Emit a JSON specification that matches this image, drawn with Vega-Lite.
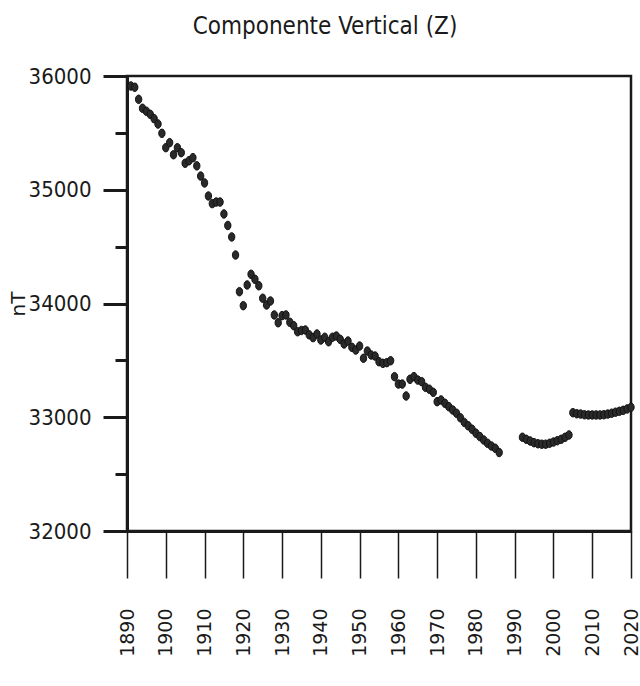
{
  "$schema": "https://vega.github.io/schema/vega-lite/v6.json",
  "autosize": {"type": "none"},
  "padding": {"left": 127, "top": 76, "right": 9, "bottom": 155},
  "width": 504,
  "height": 455,
  "background": "white",
  "config": {
    "view": {"stroke": "#1a1a1a", "strokeWidth": 2.5},
    "axis": {"grid": false, "domainColor": "#1a1a1a", "tickColor": "#1a1a1a", "labelColor": "#1a1a1a", "titleColor": "#1a1a1a"}
  },
  "title": {
    "text": "Componente Vertical (Z)",
    "font": "DejaVu Sans Condensed, Liberation Sans Narrow, Liberation Sans, sans-serif",
    "fontSize": 24,
    "fontWeight": "normal",
    "color": "#1a1a1a",
    "anchor": "middle",
    "dx": -54,
    "offset": 26
  },
  "data": {
    "values": [
      {"year": 1891, "z": 35912}, {"year": 1892, "z": 35901}, {"year": 1893, "z": 35795}, {"year": 1894, "z": 35716},
      {"year": 1895, "z": 35690}, {"year": 1896, "z": 35663}, {"year": 1897, "z": 35625}, {"year": 1898, "z": 35578},
      {"year": 1899, "z": 35496}, {"year": 1900, "z": 35370}, {"year": 1901, "z": 35414}, {"year": 1902, "z": 35308},
      {"year": 1903, "z": 35370}, {"year": 1904, "z": 35326}, {"year": 1905, "z": 35233}, {"year": 1906, "z": 35255},
      {"year": 1907, "z": 35282}, {"year": 1908, "z": 35210}, {"year": 1909, "z": 35120}, {"year": 1910, "z": 35060},
      {"year": 1911, "z": 34945}, {"year": 1912, "z": 34878}, {"year": 1913, "z": 34892}, {"year": 1914, "z": 34892},
      {"year": 1915, "z": 34787}, {"year": 1916, "z": 34686}, {"year": 1917, "z": 34585}, {"year": 1918, "z": 34426},
      {"year": 1919, "z": 34104}, {"year": 1920, "z": 33981}, {"year": 1921, "z": 34163}, {"year": 1922, "z": 34257},
      {"year": 1923, "z": 34213}, {"year": 1924, "z": 34156}, {"year": 1925, "z": 34046}, {"year": 1926, "z": 33987},
      {"year": 1927, "z": 34022}, {"year": 1928, "z": 33899}, {"year": 1929, "z": 33831}, {"year": 1930, "z": 33893},
      {"year": 1931, "z": 33899}, {"year": 1932, "z": 33835}, {"year": 1933, "z": 33805}, {"year": 1934, "z": 33752},
      {"year": 1935, "z": 33763}, {"year": 1936, "z": 33767}, {"year": 1937, "z": 33725}, {"year": 1938, "z": 33700},
      {"year": 1939, "z": 33732}, {"year": 1940, "z": 33679}, {"year": 1941, "z": 33703}, {"year": 1942, "z": 33664},
      {"year": 1943, "z": 33703}, {"year": 1944, "z": 33714}, {"year": 1945, "z": 33685}, {"year": 1946, "z": 33644},
      {"year": 1947, "z": 33670}, {"year": 1948, "z": 33615}, {"year": 1949, "z": 33591}, {"year": 1950, "z": 33626},
      {"year": 1951, "z": 33518}, {"year": 1952, "z": 33582}, {"year": 1953, "z": 33547}, {"year": 1954, "z": 33538},
      {"year": 1955, "z": 33488}, {"year": 1956, "z": 33474}, {"year": 1957, "z": 33480}, {"year": 1958, "z": 33497},
      {"year": 1959, "z": 33357}, {"year": 1960, "z": 33292}, {"year": 1961, "z": 33292}, {"year": 1962, "z": 33187},
      {"year": 1963, "z": 33334}, {"year": 1964, "z": 33357}, {"year": 1965, "z": 33327}, {"year": 1966, "z": 33313},
      {"year": 1967, "z": 33263}, {"year": 1968, "z": 33246}, {"year": 1969, "z": 33219}, {"year": 1970, "z": 33137},
      {"year": 1971, "z": 33152}, {"year": 1972, "z": 33123}, {"year": 1973, "z": 33093}, {"year": 1974, "z": 33064},
      {"year": 1975, "z": 33035}, {"year": 1976, "z": 32995}, {"year": 1977, "z": 32955}, {"year": 1978, "z": 32925},
      {"year": 1979, "z": 32895}, {"year": 1980, "z": 32860}, {"year": 1981, "z": 32830}, {"year": 1982, "z": 32800},
      {"year": 1983, "z": 32771}, {"year": 1984, "z": 32747}, {"year": 1985, "z": 32727}, {"year": 1986, "z": 32690},
      {"year": 1992, "z": 32824}, {"year": 1993, "z": 32806}, {"year": 1994, "z": 32791}, {"year": 1995, "z": 32776},
      {"year": 1996, "z": 32767}, {"year": 1997, "z": 32763}, {"year": 1998, "z": 32763}, {"year": 1999, "z": 32771},
      {"year": 2000, "z": 32782}, {"year": 2001, "z": 32794}, {"year": 2002, "z": 32806}, {"year": 2003, "z": 32824},
      {"year": 2004, "z": 32844},
      {"year": 2005, "z": 33040}, {"year": 2006, "z": 33031}, {"year": 2007, "z": 33028}, {"year": 2008, "z": 33022},
      {"year": 2009, "z": 33020}, {"year": 2010, "z": 33020}, {"year": 2011, "z": 33020}, {"year": 2012, "z": 33020},
      {"year": 2013, "z": 33022}, {"year": 2014, "z": 33028}, {"year": 2015, "z": 33035}, {"year": 2016, "z": 33044},
      {"year": 2017, "z": 33052}, {"year": 2018, "z": 33061}, {"year": 2019, "z": 33073}, {"year": 2020, "z": 33088}
    ]
  },
  "mark": {
    "type": "point",
    "filled": true,
    "shape": "M -0.75 0 A 0.75 1 0 1 0 0.75 0 A 0.75 1 0 1 0 -0.75 0 Z",
    "size": 72,
    "fill": "#2a2a2a",
    "stroke": "#111111",
    "strokeWidth": 1,
    "opacity": 1,
    "clip": false
  },
  "encoding": {
    "x": {
      "field": "year",
      "type": "quantitative",
      "scale": {"domain": [1890, 2020], "nice": false, "zero": false},
      "axis": {
        "title": null,
        "values": [1890, 1900, 1910, 1920, 1930, 1940, 1950, 1960, 1970, 1980, 1990, 2000, 2010, 2020],
        "format": "d",
        "labelAngle": 270,
        "labelFont": "DejaVu Sans",
        "labelFontSize": 19,
        "labelPadding": 30,
        "labelOverlap": false,
        "labelFlush": false,
        "labelBound": false,
        "tickSize": 47,
        "tickWidth": 1.5,
        "domainWidth": 3
      }
    },
    "y": {
      "field": "z",
      "type": "quantitative",
      "scale": {"domain": [32000, 36000], "nice": false, "zero": false},
      "axis": {
        "title": "nT",
        "titleFont": "DejaVu Sans",
        "titleFontSize": 20,
        "titleFontWeight": "normal",
        "titlePadding": 0,
        "values": [32000, 32500, 33000, 33500, 34000, 34500, 35000, 35500, 36000],
        "format": "d",
        "labelExpr": "datum.value % 1000 === 0 ? datum.label : ''",
        "labelFont": "DejaVu Sans Condensed, Liberation Sans Narrow, Liberation Sans, sans-serif",
        "labelFontSize": 22,
        "labelPadding": 12,
        "labelOverlap": false,
        "labelFlush": false,
        "tickSize": {"condition": {"test": "datum.value % 1000 === 0", "value": 24}, "value": 12},
        "tickWidth": 3,
        "domainWidth": 3
      }
    }
  }
}
